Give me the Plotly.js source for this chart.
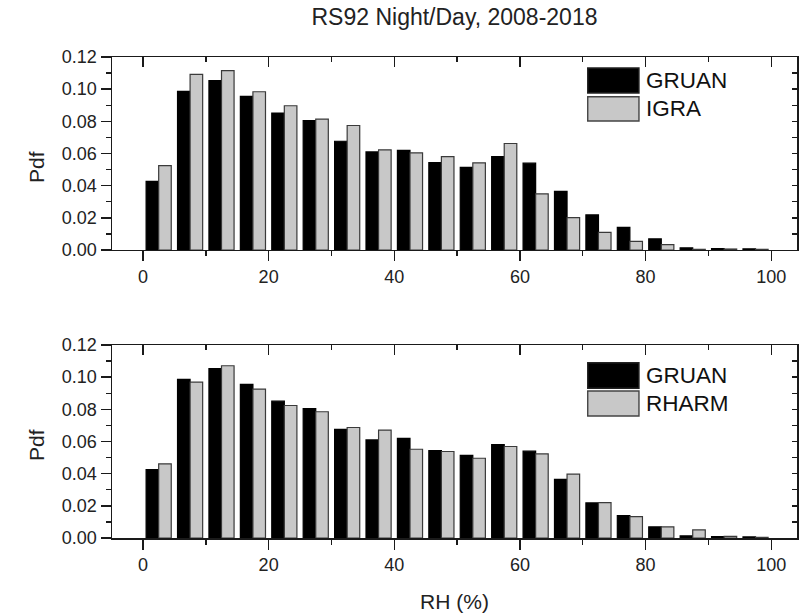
<!DOCTYPE html>
<html>
<head>
<meta charset="utf-8">
<script src="https://cdn.plot.ly/plotly-3.0.1.min.js"></script>
<style>html,body{margin:0;padding:0;background:#fff;}#chart{width:802px;height:616px;}</style>
</head>
<body>
<div id="chart"></div>
<script>
// Bin centres of RH (%) histogram, 5 % bins
const rhBins = [2.5, 7.5, 12.5, 17.5, 22.5, 27.5, 32.5, 37.5, 42.5, 47.5,
                52.5, 57.5, 62.5, 67.5, 72.5, 77.5, 82.5, 87.5, 92.5, 97.5];
const gruan = [0.0426, 0.0986, 0.1053, 0.0955, 0.0851, 0.0804, 0.0676, 0.0610, 0.0619, 0.0543,
               0.0514, 0.0581, 0.0540, 0.0365, 0.0218, 0.0140, 0.0069, 0.0013, 0.0008, 0.0007];
const igra  = [0.0525, 0.1092, 0.1115, 0.0984, 0.0897, 0.0814, 0.0774, 0.0623, 0.0604, 0.0581,
               0.0542, 0.0662, 0.0349, 0.0201, 0.0110, 0.0054, 0.0033, 0.0004, 0.0006, 0.0004];
const rharm = [0.0461, 0.0969, 0.1071, 0.0926, 0.0824, 0.0785, 0.0687, 0.0671, 0.0552, 0.0538,
               0.0496, 0.0569, 0.0523, 0.0397, 0.0220, 0.0133, 0.0069, 0.0050, 0.0010, 0.0004];
const xTickVals = [0, 20, 40, 60, 80, 100];
const yTickVals = [0.00, 0.02, 0.04, 0.06, 0.08, 0.10, 0.12];
const titleText = 'RS92 Night/Day, 2008-2018';

const FONT = 'Liberation Sans, Arial, Helvetica, sans-serif';
const INK = '#1a1a1a';
const GREY = '#c8c8c8';
const xRange = [-4.93, 104.1];
const yRange = [0, 0.12];

// black bar sits left of the bin centre, grey bar right of it
function bar(y, name, color, line, xa, ya, offset) {
  return {type: 'bar', x: rhBins, y: y, name: name, xaxis: xa, yaxis: ya,
          width: 2, offset: offset,
          marker: {color: color, line: {color: line, width: 1.2}}, showlegend: false};
}

const data = [
  bar(gruan, 'GRUAN', '#000000', '#000000', 'x', 'y', -2),
  bar(igra, 'IGRA', GREY, '#3a3a3a', 'x3', 'y3', 0),
  bar(gruan, 'GRUAN', '#000000', '#000000', 'x2', 'y2', -2),
  bar(rharm, 'RHARM', GREY, '#3a3a3a', 'x4', 'y4', 0)
];

function xBottom(anchor) {
  return {anchor: anchor, range: xRange, tickmode: 'array', tickvals: xTickVals,
    ticks: 'outside', ticklen: 10, tickwidth: 1.4, tickcolor: INK,
    minor: {tickmode: 'linear', tick0: 0, dtick: 10, ticks: 'outside', ticklen: 5, tickwidth: 1.4, tickcolor: INK},
    showline: true, linecolor: INK, linewidth: 1.5, showgrid: false, zeroline: false,
    tickfont: {family: FONT, size: 18, color: '#222'}, fixedrange: true};
}
function xTop(over, anchor) {
  return {overlaying: over, anchor: anchor, side: 'top', range: xRange, tickmode: 'array', tickvals: xTickVals,
    ticks: 'inside', ticklen: 10, tickwidth: 1.4, tickcolor: INK,
    minor: {tickmode: 'linear', tick0: 0, dtick: 10, ticks: 'inside', ticklen: 5, tickwidth: 1.4, tickcolor: INK},
    showticklabels: false, showline: true, linecolor: INK, linewidth: 1.5, showgrid: false, zeroline: false};
}
function yLeft(anchor, domain) {
  return {anchor: anchor, domain: domain, range: yRange, tickmode: 'array', tickvals: yTickVals,
    tickformat: '.2f', ticks: 'outside', ticklen: 10, tickwidth: 1.4, tickcolor: INK,
    minor: {tickmode: 'linear', tick0: 0, dtick: 0.01, ticks: 'outside', ticklen: 5, tickwidth: 1.4, tickcolor: INK},
    showline: true, linecolor: INK, linewidth: 1.5, showgrid: false, zeroline: false,
    tickfont: {family: FONT, size: 18, color: '#222'}, fixedrange: true};
}
function yRight(over, anchor) {
  return {overlaying: over, anchor: anchor, side: 'right', range: yRange,
    tickmode: 'linear', tick0: 0, dtick: 0.01, ticks: 'inside', ticklen: 5, tickwidth: 1.4, tickcolor: INK,
    showticklabels: false, showline: true, linecolor: INK, linewidth: 1.5, showgrid: false, zeroline: false};
}

// legend drawn as shapes + text (paper coordinates)
function legendBox(y0, y1, fill, line) {
  return {type: 'rect', xref: 'paper', yref: 'paper', x0: 0.6945, x1: 0.7693, y0: y0, y1: y1,
          fillcolor: fill, line: {color: line, width: 1.4}, layer: 'above'};
}
function legendText(txt, y) {
  return {text: txt, xref: 'paper', yref: 'paper', x: 0.7765, y: y, xanchor: 'left', yanchor: 'middle',
          showarrow: false, font: {family: FONT, size: 22.5, color: '#111'}};
}
function pdfLabel(yPx) {
  return {text: 'Pdf', xref: 'paper', yref: 'paper', x: (36 - 112) / 685, y: (538 - yPx) / 481,
          xanchor: 'center', yanchor: 'middle', textangle: -90, showarrow: false,
          font: {family: FONT, size: 21, color: '#222'}};
}

const layout = {
  width: 802, height: 616,
  margin: {l: 112, r: 5, t: 57, b: 78},
  paper_bgcolor: '#ffffff', plot_bgcolor: '#ffffff',
  barmode: 'overlay',
  showlegend: false,
  title: {text: titleText, font: {family: FONT, size: 23, color: '#222'},
          x: 0.5, xref: 'paper', y: 1 - 17 / 616, yref: 'container', yanchor: 'middle'},
  xaxis: xBottom('y'),
  yaxis: yLeft('x', [0.5988, 1]),
  xaxis2: Object.assign(xBottom('y2'), {title: {text: 'RH (%)', font: {family: FONT, size: 21, color: '#222'}, standoff: 20}}),
  yaxis2: yLeft('x2', [0, 0.4012]),
  xaxis3: xTop('x', 'y3'),
  yaxis3: yRight('y', 'x3'),
  xaxis4: xTop('x2', 'y4'),
  yaxis4: yRight('y2', 'x4'),
  shapes: [
    legendBox(0.9252, 0.9771, '#000000', '#222'),
    legendBox(0.8669, 0.9175, GREY, '#444'),
    legendBox(0.3112, 0.3645, '#000000', '#222'),
    legendBox(0.2536, 0.3056, GREY, '#444')
  ],
  annotations: [
    legendText('GRUAN', 0.9511),
    legendText('IGRA', 0.8919),
    legendText('GRUAN', 0.3378),
    legendText('RHARM', 0.2796),
    pdfLabel(167),
    pdfLabel(445)
  ]
};

Plotly.newPlot('chart', data, layout, {displayModeBar: false, staticPlot: true});
</script>
</body>
</html>
